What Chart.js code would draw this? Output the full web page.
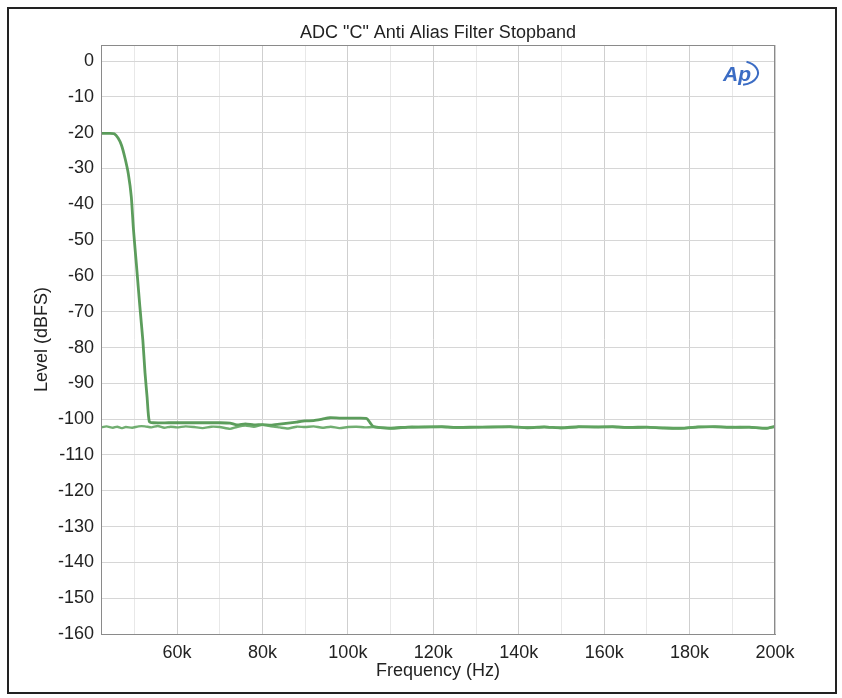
<!DOCTYPE html>
<html>
<head>
<meta charset="utf-8">
<script src="https://cdn.jsdelivr.net/npm/chart.js@4/dist/chart.umd.min.js"></script>
<style>
  html, body { margin: 0; padding: 0; background: #fff; }
  #wrap { position: relative; width: 842px; height: 698px; }
  #frame { position: absolute; left: 7px; top: 7px; width: 826px; height: 683px; border: 2px solid #222; }
  canvas { position: absolute; left: 0; top: 0; }
</style>
</head>
<body>
<div id="wrap">
  <div id="frame"></div>
  <canvas id="myChart" width="842" height="698"></canvas>
</div>
<script>
// filter response (stopband sweep)
var filterFreq = [42200, 44000, 45300, 46200, 47000, 47800, 48600, 49300, 49800, 50500, 51300, 52000, 52500, 53000, 53500,
    54500, 58000, 62000, 66000, 70000, 72400, 74000, 76000, 78000, 80000, 82000, 84000, 86000, 88000, 90000,
    92000, 94000, 95800, 98000, 100000, 102000, 104400, 105200, 106000,
    110000, 114000, 118000, 122000, 126000, 130000, 134000, 138000, 142000, 146000, 150000, 154000, 158000,
    162000, 166000, 170000, 174000, 178000, 182000, 186000, 190000, 194000, 198000, 200000];
var filterLevel = [-20.2, -20.2, -20.3, -21.5, -23.5, -27, -31.5, -38, -47, -57, -68.6, -78, -87, -94, -100.6,
    -101, -101, -101, -101, -101, -101.1, -101.6, -101.3, -101.6, -101.5, -101.7, -101.4, -101.1, -100.8, -100.5,
    -100.4, -100.0, -99.6, -99.7, -99.7, -99.7, -99.8, -101, -102.1,
    -102.5, -102.2, -102.2, -102.1, -102.3, -102.2, -102.2, -102.1, -102.4, -102.2, -102.4, -102.1, -102.2,
    -102.1, -102.3, -102.2, -102.5, -102.5, -102.2, -102.1, -102.3, -102.2, -102.5, -102.0];

// noise floor trace
var floorFreq = [42200, 43500, 45000, 46000, 47000, 48000, 49500, 51000, 52500, 54000, 55500, 57000, 58500, 60000,
    62000, 64000, 66000, 68000, 70000, 72400, 74000, 76000, 78000, 80000, 82000, 84000, 86000, 88000, 90000,
    92000, 94000, 96000, 98000, 100000, 102000, 104000, 106000, 110000, 114000, 118000, 122000, 126000, 130000,
    134000, 138000, 142000, 146000, 150000, 154000, 158000, 162000, 166000, 170000, 174000, 178000, 182000,
    186000, 190000, 194000, 198000, 200000];
var floorLevel = [-102.3, -102.0, -102.4, -102.1, -102.5, -102.2, -102.4, -102.0, -102.0, -102.3, -101.9, -102.4, -102.1, -102.3,
    -102.0, -102.2, -102.5, -102.1, -102.2, -102.7, -102.2, -101.8, -102.1, -101.6, -102.0, -102.3, -102.6, -102.1, -102.2,
    -102.0, -102.4, -102.1, -102.5, -102.2, -102.1, -102.3, -102.2, -102.6, -102.3, -102.1, -102.2, -102.4, -102.3,
    -102.1, -102.2, -102.3, -102.1, -102.5, -102.2, -102.1, -102.2, -102.4, -102.3, -102.4, -102.6, -102.1,
    -102.2, -102.2, -102.3, -102.6, -102.1];

var xTicks = [50000, 60000, 70000, 80000, 90000, 100000, 110000, 120000, 130000, 140000, 150000, 160000, 170000, 180000, 190000, 200000];
var yTicks = [0, -10, -20, -30, -40, -50, -60, -70, -80, -90, -100, -110, -120, -130, -140, -150, -160];
var chartTitle = 'ADC "C" Anti Alias Filter Stopband';

function toPoints(xs, ys) {
    return xs.map((x, i) => ({ x: x, y: ys[i] }));
}

var font = 'Liberation Sans';

// title centred over the plot, plot frame and AP logo
var decor = {
    id: 'decor',
    afterDraw(chart) {
        var c = chart.ctx, a = chart.chartArea;
        c.save();
        c.fillStyle = '#222';
        c.font = '18px ' + font;
        c.textAlign = 'center';
        c.textBaseline = 'middle';
        c.fillText(chartTitle, (a.left + a.right) / 2, 33);

        c.strokeStyle = '#8a8a8a';
        c.lineWidth = 1;
        c.strokeRect(a.left + 0.5, a.top + 0.5, a.right - a.left - 1, a.bottom - a.top);

        var x = a.right - 52, y = a.top + 36;
        c.textAlign = 'left';
        c.textBaseline = 'alphabetic';
        c.fillStyle = '#3b6cc4';
        c.font = 'italic bold 21px ' + font;
        c.fillText('Ap', x, y);
        c.strokeStyle = '#3b6cc4';
        c.lineWidth = 2;
        c.beginPath();
        c.ellipse(x + 17, y - 8, 18, 12, 0, -1.2, 1.4);
        c.stroke();
        c.restore();
    }
};

var ctx = document.getElementById('myChart').getContext('2d');
var chart = new Chart(ctx, {
    type: 'line',
    data: {
        datasets: [{
            label: 'Floor',
            data: toPoints(floorFreq, floorLevel),
            borderColor: 'rgba(98,165,98,0.9)',
            borderWidth: 2.4,
            pointRadius: 0,
            tension: 0.2
        }, {
            label: 'Filter',
            data: toPoints(filterFreq, filterLevel),
            borderColor: 'rgba(74,146,74,0.9)',
            borderWidth: 2.8,
            pointRadius: 0,
            tension: 0.2
        }]
    },
    options: {
        responsive: false,
        animation: false,
        layout: { padding: { left: 27, right: 67, top: 45, bottom: 14 } },
        plugins: {
            legend: { display: false },
            tooltip: { enabled: false },
            title: { display: false }
        },
        scales: {
            x: {
                type: 'linear',
                min: 42200,
                max: 200000,
                afterBuildTicks: s => { s.ticks = xTicks.map(v => ({ value: v })); },
                afterFit: s => { s.height = 698 - 14 - 634; },
                ticks: {
                    color: '#222',
                    font: { family: font, size: 18 },
                    padding: 8,
                    maxRotation: 0,
                    autoSkip: false,
                    callback: v => (v % 20000 === 0 ? (v / 1000) + 'k' : '')
                },
                grid: {
                    drawTicks: false,
                    color: c => (c.tick && c.tick.value % 20000 === 0 ? '#cfcfcf' : '#e8e8e8')
                },
                border: { color: '#8a8a8a' },
                title: {
                    display: true,
                    text: 'Frequency (Hz)',
                    color: '#222',
                    font: { family: font, size: 18 },
                    padding: { top: 0, bottom: 2 }
                }
            },
            y: {
                min: -160,
                max: 4.5,
                afterBuildTicks: s => { s.ticks = yTicks.map(v => ({ value: v })); },
                afterFit: s => { s.width = 101 - 27; },
                ticks: {
                    color: '#222',
                    font: { family: font, size: 18 },
                    padding: 7,
                    autoSkip: false
                },
                grid: { drawTicks: false, color: '#d6d6d6' },
                border: { color: '#8a8a8a' },
                title: {
                    display: true,
                    text: 'Level (dBFS)',
                    color: '#222',
                    font: { family: font, size: 18 },
                    padding: { top: 4, bottom: 4 }
                }
            }
        }
    },
    plugins: [decor]
});
</script>
</body>
</html>
